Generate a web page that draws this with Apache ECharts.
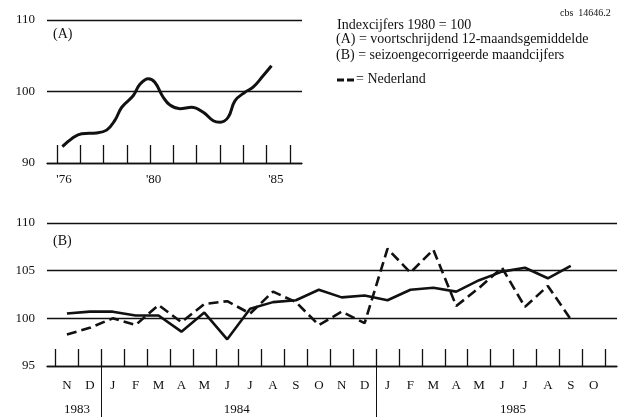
<!DOCTYPE html>
<html>
<head>
<meta charset="utf-8">
<script src="https://cdn.jsdelivr.net/npm/echarts@6/dist/echarts.min.js"></script>
<style>
  html, body { margin: 0; padding: 0; background: #fff; }
  #chart { width: 619px; height: 417px; }
</style>
</head>
<body>
<div id="chart"></div>
<script>
// (A) voortschrijdend 12-maandsgemiddelde
const yearsA = [1976.23, 1976.63, 1977.06, 1977.7, 1978.13, 1978.49, 1978.78, 1979.27, 1979.56, 1979.92,
  1980.2, 1980.56, 1980.85, 1981.28, 1981.78, 1982.28, 1982.71, 1983.0, 1983.35, 1983.64,
  1984.07, 1984.42, 1984.85, 1985.21];
const valuesA = [92.3, 93.4, 94.1, 94.2, 94.6, 96.0, 97.8, 99.4, 101.0, 101.8,
  101.3, 99.2, 98.1, 97.6, 97.8, 97.1, 95.9, 95.7, 96.4, 98.7,
  99.9, 100.6, 102.2, 103.6];
const yearTicksA = [1976, 1977, 1978, 1979, 1980, 1981, 1982, 1983, 1984, 1985, 1986];
const yearLabelsA = ["'76", "'80", "'85"];
const yearLabelPosA = [1976.3, 1980.15, 1985.4];

// (B) seizoengecorrigeerde maandcijfers, nov 1983 - okt 1985
const monthLabels = ['N', 'D', 'J', 'F', 'M', 'A', 'M', 'J', 'J', 'A', 'S', 'O',
  'N', 'D', 'J', 'F', 'M', 'A', 'M', 'J', 'J', 'A', 'S', 'O'];
const regioB = [100.5, 100.7, 100.7, 100.3, 100.3, 98.6, 100.6, 97.8, 101.0, 101.7, 101.9, 103.0,
  102.2, 102.4, 101.9, 103.0, 103.2, 102.8, 104.0, 104.9, 105.3, 104.2, 105.5];
const nederlandB = [98.3, 99.0, 100.0, 99.3, 101.4, 99.6, 101.5, 101.8, 100.5, 102.8, 101.7, 99.3,
  100.7, 99.5, 107.3, 104.8, 107.2, 101.3, 103.2, 105.3, 101.2, 103.4, 99.9];
const yearLabelsB = ['1983', '1984', '1985'];
const yearLabelPosB = [0.44, 7.42, 19.48];
const yearBreaksB = [1.5, 13.5];

const ink = '#111';
const font = 'Liberation Serif';

const monthIdx = monthLabels.map((m, i) => i);
const monthTicks = monthLabels.map((m, i) => i - 0.5).concat([monthLabels.length - 0.5]);

function nearestLabel(v, positions, labels) {
  let best = 0;
  positions.forEach((p, i) => {
    if (Math.abs(p - v) < Math.abs(positions[best] - v)) best = i;
  });
  return labels[best];
}

let chart = echarts.init(document.getElementById('chart'));

let option = {
  backgroundColor: '#fff',
  animation: false,
  textStyle: { fontFamily: font, color: ink },
  grid: [
    { left: 47, top: 20, width: 255, height: 143 },
    { left: 47, top: 223, width: 570, height: 143 }
  ],
  xAxis: [
    {
      gridIndex: 0,
      type: 'value',
      position: 'bottom',
      min: 1975.57,
      max: 1986.52,
      splitLine: { show: false },
      axisLine: { onZero: false, lineStyle: { color: ink, width: 1.3 } },
      axisTick: { show: true, inside: true, length: 18, customValues: yearTicksA,
        lineStyle: { color: ink, width: 1.3 } },
      axisLabel: { customValues: yearLabelPosA, margin: 10, fontSize: 13, color: ink, fontFamily: font,
        formatter: v => nearestLabel(v, yearLabelPosA, yearLabelsA) }
    },
    {
      gridIndex: 1,
      type: 'value',
      position: 'bottom',
      min: -0.87,
      max: 24.02,
      splitLine: { show: false },
      axisLine: { onZero: false, lineStyle: { color: ink, width: 1.3 } },
      axisTick: { show: true, inside: true, length: 17, customValues: monthTicks,
        lineStyle: { color: ink, width: 1.3 } },
      axisLabel: { customValues: monthIdx, margin: 13, fontSize: 13, color: ink, fontFamily: font,
        formatter: v => monthLabels[Math.round(v)] }
    },
    {
      // jaarscheiding en jaartallen
      gridIndex: 1,
      type: 'value',
      position: 'bottom',
      min: -0.87,
      max: 24.02,
      splitLine: { show: false },
      axisLine: { show: false, onZero: false },
      axisTick: { show: true, inside: false, length: 51, customValues: yearBreaksB,
        lineStyle: { color: ink, width: 1 } },
      axisLabel: { customValues: yearLabelPosB, margin: 37, fontSize: 13, color: ink, fontFamily: font,
        formatter: v => nearestLabel(v, yearLabelPosB, yearLabelsB) }
    }
  ],
  yAxis: [
    {
      gridIndex: 0,
      type: 'value',
      min: 90,
      max: 110,
      interval: 10,
      axisLine: { show: false },
      axisTick: { show: false },
      splitLine: { lineStyle: { color: ink, width: 1.3 } },
      axisLabel: { margin: 12, fontSize: 13, color: ink, fontFamily: font }
    },
    {
      gridIndex: 1,
      type: 'value',
      min: 95,
      max: 110,
      interval: 5,
      axisLine: { show: false },
      axisTick: { show: false },
      splitLine: { lineStyle: { color: ink, width: 1.3 } },
      axisLabel: { margin: 12, fontSize: 13, color: ink, fontFamily: font }
    }
  ],
  series: [
    {
      name: 'A',
      type: 'line',
      xAxisIndex: 0,
      yAxisIndex: 0,
      smooth: 0.4,
      showSymbol: false,
      data: yearsA.map((y, i) => [y, valuesA[i]]),
      lineStyle: { color: ink, width: 3 }
    },
    {
      name: 'Regio',
      type: 'line',
      xAxisIndex: 1,
      yAxisIndex: 1,
      showSymbol: false,
      data: regioB.map((v, i) => [i, v]),
      lineStyle: { color: ink, width: 2.6 }
    },
    {
      name: 'Nederland',
      type: 'line',
      xAxisIndex: 1,
      yAxisIndex: 1,
      showSymbol: false,
      data: nederlandB.map((v, i) => [i, v]),
      lineStyle: { color: ink, width: 2.6, type: [10, 5] }
    }
  ],
  graphic: [
    { type: 'text', left: 53, top: 27, style: { text: '(A)', font: '14px "Liberation Serif"', fill: ink } },
    { type: 'text', left: 53, top: 234, style: { text: '(B)', font: '14px "Liberation Serif"', fill: ink } },
    { type: 'text', left: 560, top: 8, style: { text: 'cbs  14646.2', font: '10px "Liberation Serif"', fill: ink } },
    { type: 'text', left: 337, top: 18, style: { text: 'Indexcijfers 1980 = 100', font: '14px "Liberation Serif"', fill: ink } },
    { type: 'text', left: 336, top: 32, style: { text: '(A) = voortschrijdend 12-maandsgemiddelde', font: '14px "Liberation Serif"', fill: ink } },
    { type: 'text', left: 336, top: 48, style: { text: '(B) = seizoengecorrigeerde maandcijfers', font: '14px "Liberation Serif"', fill: ink } },
    { type: 'line', shape: { x1: 337, y1: 80, x2: 354, y2: 80 },
      style: { stroke: ink, lineWidth: 3, lineDash: [7, 3] } },
    { type: 'text', left: 356, top: 72, style: { text: '= Nederland', font: '14px "Liberation Serif"', fill: ink } }
  ]
};

option && chart.setOption(option);
</script>
</body>
</html>
